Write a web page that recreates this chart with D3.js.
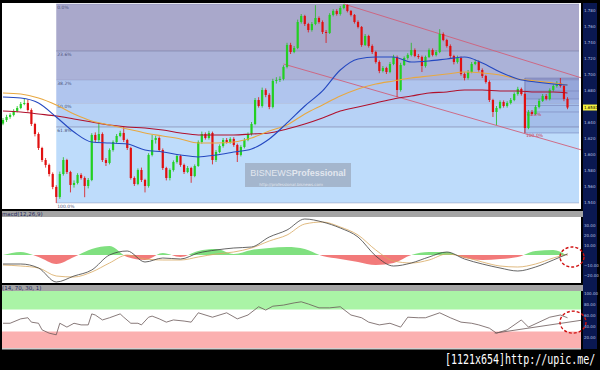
<!DOCTYPE html>
<html>
<head>
<meta charset="utf-8">
<script src="https://cdn.jsdelivr.net/npm/d3@7"></script>
<style>
html, body { margin: 0; padding: 0; background: #000; }
svg { display: block; }
</style>
</head>
<body>
<div id="chart"></div>
<script>
// daily candles (open = previous close)
const firstOpen = 1.638;
const closes = [
    1.6425,1.6463,1.6488,1.6538,1.6575,1.6625,1.6638,1.655,1.6375,1.625,
    1.6075,1.5925,1.5863,1.575,1.5588,1.5463,1.575,1.5925,1.5775,1.5613,
    1.5638,1.5738,1.57,1.56,1.5675,1.6238,1.6175,1.625,1.5925,1.5888,
    1.605,1.615,1.6225,1.6263,1.6175,1.6075,1.57,1.5625,1.58,1.5675,
    1.56,1.5988,1.6175,1.62,1.605,1.5825,1.57,1.58,1.59,1.5975,
    1.5863,1.5775,1.5825,1.5725,1.585,1.615,1.625,1.62,1.6263,1.5925,
    1.6025,1.61,1.6175,1.615,1.6188,1.6113,1.5988,1.6088,1.6175,1.625,
    1.6375,1.6675,1.66,1.68,1.6738,1.6588,1.6913,1.6925,1.6938,1.7088,
    1.7363,1.7275,1.7325,1.765,1.7725,1.7625,1.755,1.7625,1.77,1.765,
    1.7525,1.7513,1.7738,1.7788,1.775,1.7825,1.7863,1.7788,1.7738,1.765,
    1.7588,1.7363,1.7475,1.735,1.7275,1.715,1.7038,1.7075,1.7025,1.7125,
    1.7213,1.68,1.7113,1.72,1.7238,1.73,1.7225,1.7213,1.71,1.7213,
    1.73,1.7238,1.7275,1.75,1.7425,1.735,1.7225,1.715,1.72,1.70,
    1.695,1.7025,1.7125,1.715,1.705,1.6975,1.69,1.6675,1.6525,1.6575,
    1.665,1.66,1.6638,1.6675,1.675,1.6813,1.675,1.6325,1.6525,1.65,
    1.6588,1.6663,1.6725,1.6688,1.68,1.685,1.6888,1.685,1.6688,1.6581
];
const highs = [
    1.645,1.649,1.651,1.656,1.660,1.665,1.670,1.668,1.657,1.639,
    1.627,1.609,1.595,1.588,1.577,1.561,1.578,1.596,1.594,1.579,
    1.567,1.576,1.576,1.572,1.570,1.626,1.627,1.639,1.627,1.595,
    1.607,1.617,1.625,1.629,1.634,1.619,1.609,1.572,1.582,1.583,
    1.569,1.601,1.624,1.623,1.622,1.607,1.584,1.582,1.592,1.600,
    1.599,1.588,1.585,1.584,1.587,1.617,1.628,1.627,1.629,1.628,
    1.605,1.612,1.620,1.620,1.621,1.621,1.613,1.611,1.620,1.627,
    1.640,1.670,1.671,1.683,1.682,1.676,1.694,1.696,1.697,1.711,
    1.739,1.739,1.735,1.768,1.775,1.774,1.764,1.765,1.786,1.772,
    1.767,1.755,1.776,1.781,1.781,1.785,1.7875,1.787,1.780,1.775,
    1.767,1.760,1.750,1.749,1.737,1.729,1.717,1.710,1.709,1.715,
    1.724,1.723,1.714,1.722,1.726,1.739,1.732,1.725,1.723,1.723,
    1.732,1.732,1.730,1.756,1.752,1.744,1.737,1.724,1.723,1.722,
    1.702,1.705,1.715,1.718,1.717,1.707,1.699,1.692,1.669,1.660,
    1.667,1.667,1.666,1.670,1.677,1.684,1.683,1.677,1.655,1.655,
    1.661,1.669,1.675,1.675,1.682,1.687,1.691,1.695,1.687,1.671
];
const lows = [
    1.636,1.640,1.644,1.647,1.652,1.656,1.661,1.653,1.635,1.622,
    1.605,1.590,1.583,1.572,1.556,1.5388,1.544,1.573,1.575,1.552,
    1.558,1.562,1.568,1.546,1.557,1.566,1.615,1.615,1.590,1.585,
    1.587,1.603,1.613,1.621,1.615,1.605,1.568,1.560,1.561,1.565,
    1.552,1.558,1.597,1.613,1.603,1.580,1.567,1.567,1.578,1.588,
    1.584,1.575,1.576,1.564,1.571,1.584,1.613,1.618,1.618,1.587,
    1.590,1.601,1.608,1.613,1.613,1.609,1.590,1.597,1.607,1.616,
    1.623,1.636,1.658,1.658,1.671,1.656,1.657,1.688,1.690,1.692,
    1.707,1.725,1.726,1.731,1.763,1.760,1.752,1.753,1.761,1.763,
    1.750,1.7388,1.750,1.772,1.773,1.773,1.781,1.777,1.772,1.763,
    1.757,1.734,1.735,1.733,1.725,1.713,1.701,1.702,1.700,1.701,
    1.711,1.6713,1.678,1.710,1.718,1.722,1.721,1.719,1.7025,1.708,
    1.720,1.722,1.722,1.726,1.741,1.733,1.720,1.712,1.713,1.698,
    1.692,1.693,1.701,1.711,1.703,1.695,1.688,1.665,1.6463,1.6363,
    1.656,1.658,1.658,1.662,1.666,1.673,1.673,1.6263,1.631,1.648,
    1.649,1.657,1.665,1.667,1.667,1.678,1.683,1.683,1.666,1.656
];

// moving averages, read every 5 bars
const maIndex = [0,5,10,15,20,25,30,35,40,45,50,55,60,65,70,75,80,85,90,95,100,105,110,115,120,125,130,135,140,145,150,155,159];
const maFast = [1.6713,1.67,1.6638,1.6463,1.6275,1.615,1.6138,1.6125,1.605,1.6025,1.5988,1.5963,1.5988,1.6025,1.6063,1.6188,1.6388,1.66,1.6788,1.705,1.7188,1.7213,1.7213,1.715,1.7163,1.7188,1.7213,1.7138,1.7025,1.6938,1.69,1.6875,1.6863];
const maMid = [1.6763,1.675,1.67,1.6613,1.65,1.6413,1.6363,1.6313,1.6263,1.6225,1.6188,1.6138,1.6138,1.615,1.62,1.6288,1.6363,1.65,1.6613,1.6725,1.6813,1.6875,1.6913,1.695,1.6975,1.70,1.7025,1.7013,1.6988,1.6938,1.6913,1.6888,1.6863];
const maSlow = [1.6538,1.6525,1.65,1.6475,1.6438,1.64,1.6363,1.6338,1.6325,1.63,1.6263,1.6238,1.6238,1.6238,1.625,1.6263,1.6313,1.6375,1.645,1.6538,1.6588,1.6638,1.6688,1.6725,1.6763,1.6775,1.68,1.68,1.6788,1.6788,1.6775,1.6775,1.6763];

// macd(12,26,9) on the same bars as the averages
const macdLine = [-9,-9,-13,-27,-21,-15,0,4,-7,-3,-4,2,5,7,8,18,25,36,33,27,18,-1,-11,-8,-2,3,-4,-9,-13,-16,-12,-5,1];
const macdSignal = [-10,-11,-13,-21,-22,-17,-8,0,-4,-5,-5,-2,1,3,7,14,20,31,33,28,20,5,-6,-8,-5,1,-2,-7,-11,-12,-9,-3,1];
const macdHist = [0,3,-2,-9,-2,6,9,-2,-5,2,-2,4,6,1,5,7,8,6,-1,-4,-7,-10,-8,0,3,3,-3,-5,-4,-2,4,5,-1];

// rsi(14)
const rsiIndex = [0,2,5,7,8,10,11,13,15,16,18,20,22,24,25,26,28,30,33,34,36,38,39,41,42,44,46,48,51,53,55,59,63,66,69,72,74,76,79,82,84,86,89,92,95,98,101,103,106,109,112,114,117,119,123,126,129,132,134,137,139,142,146,148,151,154,157,159];
const rsiValues = [45,45,53,55,47,45,33,27,24,45,38,45,42,42,62,60,51,55,62,56,45,45,42,56,58,53,47,51,49,47,64,56,64,53,60,75,69,76,78,82,84,80,73,73,75,60,55,47,42,45,38,56,55,55,64,55,47,45,42,36,27,33,51,38,47,56,60,55];

const priceTicks = [1.78,1.76,1.74,1.72,1.70,1.68,1.64,1.62,1.60,1.58,1.56,1.54];
const macdTicks = [30,20,10,-10,-20];
const rsiTicks = [100,80,60,40,20];
const fibLevels = [0, 0.236, 0.382, 0.5, 0.618, 1];
const fibLabels = ["0.0%","23.6%","38.2%","50.0%","61.8%","100.0%"];
const channelUpper = [[96, 1.7875], [163, 1.695]];
const channelLower = [[79, 1.7125], [163, 1.605]];
const rsiTrend = [[138.5, 27], [163.5, 51]];

const W = 600, H = 370;
const svg = d3.select("#chart").append("svg").attr("width", W).attr("height", H);
svg.append("rect").attr("width", W).attr("height", H).attr("fill", "#000");

const x = d3.scaleLinear().domain([0, closes.length - 1]).range([3, 567.5]);
const y = d3.scaleLinear().domain([1.54, 1.78]).range([202, 10]);
const yMacd = d3.scaleLinear().domain([-10, 30]).range([265, 225]);
const yRsi = d3.scaleLinear().domain([0, 100]).range([348, 293]);

const defs = svg.append("defs");
const clip = (id, x0, y0, w, h) => defs.append("clipPath").attr("id", id)
    .append("rect").attr("x", x0).attr("y", y0).attr("width", w).attr("height", h);
clip("clipMain", 2, 3, 579, 206);
clip("clipMacd", 2, 217, 579, 66);
clip("clipRsi", 2, 291, 579, 57);
clip("clipPos", 0, 0, 600, yMacd(0));
clip("clipNeg", 0, yMacd(0), 600, 100);

// panels
svg.append("rect").attr("x", 2).attr("y", 3).attr("width", 579).attr("height", 206).attr("fill", "#fff");
svg.append("rect").attr("x", 2).attr("y", 211).attr("width", 581).attr("height", 6).attr("fill", "#a4a4a4");
svg.append("rect").attr("x", 2).attr("y", 217).attr("width", 579).attr("height", 66).attr("fill", "#fff");
svg.append("rect").attr("x", 2).attr("y", 285).attr("width", 581).attr("height", 6).attr("fill", "#a4a4a4");
svg.append("rect").attr("x", 2).attr("y", 291).attr("width", 579).attr("height", 57).attr("fill", "#fff");
svg.append("rect").attr("x", 2).attr("y", 348).attr("width", 579).attr("height", 1.5).attr("fill", "#d0d0d0");

// ---- main price panel
const gMain = svg.append("g").attr("clip-path", "url(#clipMain)");

const fibHi = highs[96], fibLo = lows[15];
const fibColors = ["#a9a8cb", "#abb2d8", "#b0c5ee", "#b7d2f6", "#bedcfb"];
const fibY = fibLevels.map(l => y(fibHi - (fibHi - fibLo) * l));
gMain.selectAll("rect.fib").data(fibColors).join("rect")
    .attr("x", x(15)).attr("width", 579 - x(15))
    .attr("y", (d, i) => fibY[i]).attr("height", (d, i) => fibY[i + 1] - fibY[i])
    .attr("fill", d => d);
gMain.selectAll("line.fib").data(fibY).join("line")
    .attr("x1", x(15)).attr("x2", 579).attr("y1", d => d).attr("y2", d => d)
    .attr("stroke", "#7c82aa").attr("stroke-width", 0.8).attr("opacity", (d, i) => [0.5, 0.9, 0.3, 0.3, 0.8, 0.5][i]);
gMain.selectAll("text.fib").data(fibLabels).join("text")
    .attr("x", x(15) + 1).attr("y", (d, i) => fibY[i] + 5)
    .attr("font-family", "DejaVu Sans").attr("font-size", "4.5px").attr("fill", "#4a5078")
    .text(d => d);

// small retracement on the last swing
const sHi = highs[157], sLo = lows[147];
const sY = fibLevels.map(l => y(sHi - (sHi - sLo) * l));
gMain.append("rect").attr("x", x(147)).attr("width", 579 - x(147))
    .attr("y", sY[0]).attr("height", sY[5] - sY[0]).attr("fill", "#3048a0").attr("opacity", 0.14);
gMain.append("rect").attr("x", x(147)).attr("width", 579 - x(147))
    .attr("y", sY[0]).attr("height", sY[2] - sY[0]).attr("fill", "#503890").attr("opacity", 0.1);
gMain.selectAll("line.sfib").data(sY).join("line")
    .attr("x1", x(147)).attr("x2", 579).attr("y1", d => d).attr("y2", d => d)
    .attr("stroke", "#7078b0").attr("stroke-width", 0.7).attr("opacity", 0.7);
gMain.append("line").attr("x1", x(147)).attr("x2", x(147)).attr("y1", sY[0]).attr("y2", sY[5])
    .attr("stroke", "#6a70a0").attr("stroke-width", 0.7);
gMain.append("text").attr("x", x(147) + 1).attr("y", sY[5] + 4.5)
    .attr("font-family", "DejaVu Sans").attr("font-size", "4.5px").attr("fill", "#c83040").text("100.0%");
gMain.append("text").attr("x", x(147) + 2).attr("y", sY[4] + 4)
    .attr("font-family", "DejaVu Sans").attr("font-size", "4.5px").attr("fill", "#c83040").text("61.8%");

// down channel
[channelUpper, channelLower].forEach(c => {
    gMain.append("line")
        .attr("x1", x(c[0][0])).attr("y1", y(c[0][1]))
        .attr("x2", x(c[1][0])).attr("y2", y(c[1][1]))
        .attr("stroke", "#d0607a").attr("stroke-width", 0.9);
});

// candles
const candles = closes.map((c, i) => ({ i, open: i ? closes[i - 1] : firstOpen, close: c, high: highs[i], low: lows[i] }));
const up = d => d.close >= d.open;
gMain.selectAll("line.wick").data(candles).join("line")
    .attr("x1", d => x(d.i)).attr("x2", d => x(d.i))
    .attr("y1", d => y(d.high)).attr("y2", d => y(d.low))
    .attr("stroke", d => up(d) ? "#22bb22" : "#dd1111").attr("stroke-width", 0.8);
gMain.selectAll("rect.body").data(candles).join("rect")
    .attr("x", d => x(d.i) - 1.1).attr("width", 2.2)
    .attr("y", d => y(Math.max(d.open, d.close)))
    .attr("height", d => Math.max(1, Math.abs(y(d.open) - y(d.close))))
    .attr("fill", d => up(d) ? "#22d022" : "#e01010");

// averages
const maLine = d3.line().x(d => x(d[0])).y(d => y(d[1])).curve(d3.curveMonotoneX);
[[maSlow, "#b0102c"], [maMid, "#e8a840"], [maFast, "#2448c0"]].forEach(([vals, col]) => {
    gMain.append("path").datum(d3.zip(maIndex, vals))
        .attr("d", maLine).attr("fill", "none").attr("stroke", col).attr("stroke-width", 1.1);
});

// watermark
gMain.append("rect").attr("x", 245).attr("y", 163).attr("width", 106).attr("height", 24)
    .attr("fill", "#8e98a8").attr("opacity", 0.55);
const wm = gMain.append("text").attr("x", 298).attr("y", 176).attr("text-anchor", "middle")
    .attr("font-family", "Liberation Sans").attr("font-size", "9px").attr("fill", "#e2e7ef");
wm.append("tspan").text("BISNEWS");
wm.append("tspan").attr("font-weight", "bold").text("Professional");
gMain.append("text").attr("x", 291).attr("y", 185.5).attr("text-anchor", "middle")
    .attr("font-family", "DejaVu Sans").attr("font-size", "4px").attr("fill", "#e2e7ef")
    .text("http://professional.bisnews.com");

// ---- macd panel
svg.append("text").attr("x", 2).attr("y", 216).attr("font-family", "DejaVu Sans")
    .attr("font-size", "5.5px").attr("fill", "#1e2a60").text("macd(12,26,9)");
const gMacd = svg.append("g").attr("clip-path", "url(#clipMacd)");
const histArea = d3.area().x(d => x(d[0])).y0(yMacd(0)).y1(d => yMacd(d[1])).curve(d3.curveMonotoneX);
const histData = d3.zip(maIndex, macdHist);
gMacd.append("g").attr("clip-path", "url(#clipPos)").append("path").datum(histData)
    .attr("d", histArea).attr("fill", "#80e080");
gMacd.append("g").attr("clip-path", "url(#clipNeg)").append("path").datum(histData)
    .attr("d", histArea).attr("fill", "#f27a7a");
const macdPath = d3.line().x(d => x(d[0])).y(d => yMacd(d[1])).curve(d3.curveMonotoneX);
gMacd.append("path").datum(d3.zip(maIndex, macdSignal))
    .attr("d", macdPath).attr("fill", "none").attr("stroke", "#d8a860").attr("stroke-width", 0.8);
gMacd.append("path").datum(d3.zip(maIndex, macdLine))
    .attr("d", macdPath).attr("fill", "none").attr("stroke", "#404040").attr("stroke-width", 0.8);

// ---- rsi panel
svg.append("text").attr("x", 2).attr("y", 290).attr("font-family", "DejaVu Sans")
    .attr("font-size", "5.5px").attr("fill", "#1e2a60").text("(14, 70, 30, 1)");
const gRsi = svg.append("g").attr("clip-path", "url(#clipRsi)");
gRsi.append("rect").attr("x", 2).attr("width", 579).attr("y", 291).attr("height", yRsi(70) - 291).attr("fill", "#aaf4a6");
gRsi.append("rect").attr("x", 2).attr("width", 579).attr("y", yRsi(30)).attr("height", 348 - yRsi(30)).attr("fill", "#fbb0b0");
gRsi.append("path").datum(d3.zip(rsiIndex, rsiValues))
    .attr("d", d3.line().x(d => x(d[0])).y(d => yRsi(d[1])))
    .attr("fill", "none").attr("stroke", "#6a5858").attr("stroke-width", 0.8);
gRsi.append("line")
    .attr("x1", x(rsiTrend[0][0])).attr("y1", yRsi(rsiTrend[0][1]))
    .attr("x2", x(rsiTrend[1][0])).attr("y2", yRsi(rsiTrend[1][1]))
    .attr("stroke", "#6a5858").attr("stroke-width", 0.8);

// ---- right axis column
svg.append("rect").attr("x", 583).attr("y", 3).attr("width", 14).attr("height", 346).attr("fill", "#0a1852");
const axisText = (sel) => sel.attr("x", 584).attr("font-family", "DejaVu Sans")
    .attr("font-size", "4px").attr("fill", "#b8c2e0");
svg.selectAll("text.pt").data(priceTicks).join("text").call(axisText)
    .attr("y", d => y(d) + 1.5).text(d => d3.format(".3f")(d));
svg.selectAll("text.mt").data(macdTicks).join("text").call(axisText)
    .attr("y", d => yMacd(d) + 1.5).text(d => d3.format(".2f")(d));
svg.selectAll("text.rt").data(rsiTicks).join("text").call(axisText)
    .attr("y", d => yRsi(d) + 1.5).text(d => d3.format(".2f")(d));

// last price tag
const last = closes[closes.length - 1];
svg.append("rect").attr("x", 583).attr("y", y(last) - 3).attr("width", 14).attr("height", 6).attr("fill", "#f4f040");
svg.append("text").attr("x", 584).attr("y", y(last) + 1.6).attr("font-family", "DejaVu Sans")
    .attr("font-size", "4px").attr("fill", "#000").text(last.toFixed(4));

// highlight circles
[[572, yMacd(-2), 12, 10], [573, yRsi(47), 13, 11]].forEach(([cx, cy, rx, ry]) => {
    svg.append("ellipse").attr("cx", cx).attr("cy", cy).attr("rx", rx).attr("ry", ry)
        .attr("fill", "none").attr("stroke", "#d01010").attr("stroke-width", 1.4)
        .attr("stroke-dasharray", "3,2");
});

// image host tag
svg.append("text").attr("transform", "translate(445,364) scale(1,1.35)")
    .attr("font-family", "DejaVu Sans Mono").attr("font-size", "10px").attr("fill", "#fff")
    .text("[1121x654]http://upic.me/");
</script>
</body>
</html>
